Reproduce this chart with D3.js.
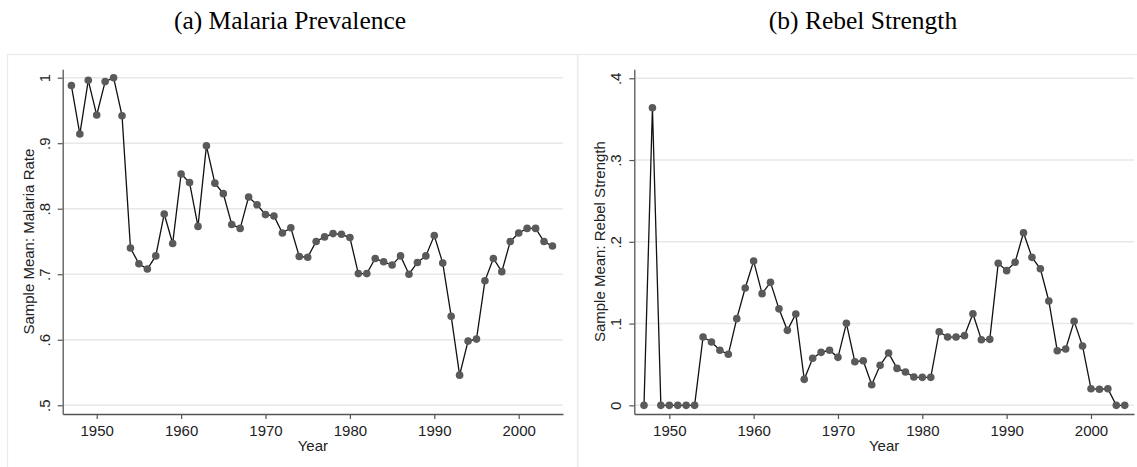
<!DOCTYPE html>
<html><head><meta charset="utf-8">
<script src="https://cdn.jsdelivr.net/npm/d3@7"></script>
<style>body{margin:0;background:#fff}svg{display:block}</style>
</head><body><svg id="c" width="1137" height="467"></svg>
<script>
const years = d3.range(1947, 2005);
const malaria = [0.988,0.914,0.996,0.943,0.994,1.000,0.942,0.740,0.716,0.708,
  0.728,0.792,0.747,0.853,0.840,0.773,0.896,0.839,0.823,0.776,
  0.770,0.818,0.806,0.791,0.789,0.763,0.771,0.727,0.726,0.750,
  0.757,0.762,0.761,0.756,0.701,0.701,0.724,0.719,0.714,0.728,
  0.700,0.718,0.728,0.759,0.717,0.636,0.546,0.598,0.601,0.690,
  0.724,0.704,0.750,0.763,0.770,0.770,0.750,0.743];
const rebel = [0,0.364,0,0,0,0,0,0.0835,0.0774,0.0673,
  0.0624,0.106,0.1435,0.1765,0.1366,0.1504,0.118,0.0917,0.1117,0.0318,
  0.0575,0.0648,0.0673,0.0587,0.1003,0.0533,0.0546,0.0252,0.0489,0.064,
  0.0452,0.0407,0.0346,0.0342,0.0342,0.090,0.0835,0.0835,0.0852,0.112,
  0.0803,0.0807,0.1737,0.1647,0.175,0.2111,0.181,0.167,0.1276,0.0668,
  0.0689,0.1027,0.0725,0.0203,0.0196,0.0203,0,0];
const xTicks = [1950,1960,1970,1980,1990,2000];
const malariaTicks = [0.5,0.6,0.7,0.8,0.9,1];
const malariaTickLabels = [".5",".6",".7",".8",".9","1"];
const rebelTicks = [0,0.1,0.2,0.3,0.4];
const rebelTickLabels = ["0",".1",".2",".3",".4"];

const svg = d3.select("#c");
const sans = "'Liberation Sans', Arial, sans-serif";

function panel(o){
  const g = svg.append("g");
  g.append("rect").attr("x",o.bx).attr("y",54.5).attr("width",o.bw).attr("height",420)
    .attr("fill","#fff").attr("stroke","#ebebeb").attr("stroke-width",1.2);
  g.append("text").attr("x",o.titleX).attr("y",28.5).attr("text-anchor","middle")
    .attr("font-family","'Liberation Serif', 'Times New Roman', serif").attr("font-size",25.5)
    .attr("fill","#000").text(o.title);
  const x = d3.scaleLinear().domain(o.xd).range([o.x0,o.x1]);
  const y = d3.scaleLinear().domain(o.yd).range([414,69.3]);
  // grid
  g.append("g").selectAll("line").data(o.yt).join("line")
    .attr("x1",o.x0).attr("x2",o.x1).attr("y1",d=>y(d)).attr("y2",d=>y(d))
    .attr("stroke","#e8e8e8").attr("stroke-width",1.5);
  // y axis
  const ya = g.append("g").attr("transform",`translate(${o.x0},0)`)
    .call(d3.axisLeft(y).tickValues(o.yt).tickFormat((d,i)=>o.yl[i]).tickSize(5).tickSizeOuter(0));
  ya.select(".domain").attr("stroke","#555").attr("stroke-width",1.3);
  ya.selectAll(".tick line").attr("stroke","#555").attr("stroke-width",1.2);
  ya.selectAll(".tick text").attr("font-family",sans).attr("font-size",15).attr("fill","#222")
    .attr("x",null).attr("dy",null).attr("text-anchor","middle")
    .attr("transform","translate(-13,0) rotate(-90)");
  // x axis
  const xa = g.append("g").attr("transform","translate(0,414)")
    .call(d3.axisBottom(x).tickValues(xTicks).tickFormat(d3.format("d")).tickSize(5).tickSizeOuter(0));
  xa.select(".domain").attr("stroke","#555").attr("stroke-width",1.3);
  xa.selectAll(".tick line").attr("stroke","#555").attr("stroke-width",1.2);
  xa.selectAll(".tick text").attr("font-family",sans).attr("font-size",15).attr("fill","#222")
    .attr("y",11).attr("dy","0.71em");
  // titles
  g.append("text").attr("x",(o.x0+o.x1)/2).attr("y",451).attr("text-anchor","middle")
    .attr("font-family",sans).attr("font-size",15).attr("fill","#222").text("Year");
  g.append("text").attr("transform",`translate(${o.x0-29},${y.range()[0]/2+y.range()[1]/2}) rotate(-90)`)
    .attr("text-anchor","middle").attr("font-family",sans).attr("font-size",15).attr("fill","#222")
    .text(o.ytitle);
  // line & points
  const pts = years.map((yr,i)=>[yr,o.vals[i]]);
  g.append("path").datum(pts).attr("fill","none").attr("stroke","#111").attr("stroke-width",1.3)
    .attr("d",d3.line().x(d=>x(d[0])).y(d=>y(d[1])));
  g.append("g").selectAll("circle").data(pts).join("circle")
    .attr("cx",d=>x(d[0])).attr("cy",d=>y(d[1])).attr("r",3.8).attr("fill","#5a5a5a");
}

panel({bx:7.5,bw:570,title:"(a) Malaria Prevalence",titleX:290,x0:62.7,x1:563,
  xd:[1945.97,2005.25],yd:[0.4867,1.0128],yt:malariaTicks,yl:malariaTickLabels,
  vals:malaria,ytitle:"Sample Mean: Malaria Rate"});
panel({bx:578,bw:570,title:"(b) Rebel Strength",titleX:863,x0:634.3,x1:1134,
  xd:[1945.85,2005.1],yd:[-0.0106,0.411],yt:rebelTicks,yl:rebelTickLabels,
  vals:rebel,ytitle:"Sample Mean: Rebel Strength"});
</script></body></html>
